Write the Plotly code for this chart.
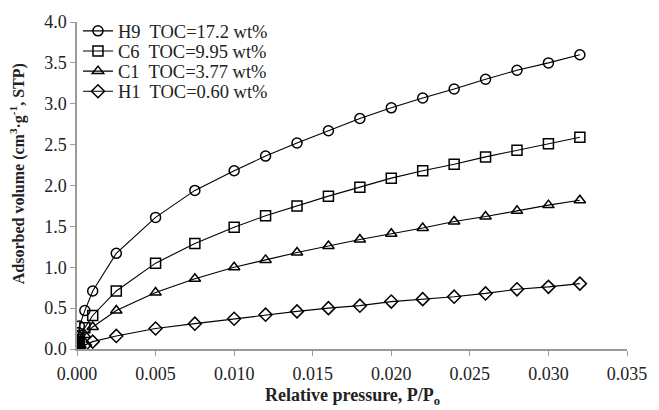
import plotly.graph_objects as go

# Relative pressure P/Po for each measured point
pressure = [0.00001, 0.00002, 0.00004, 0.00007, 0.0001, 0.00015, 0.0005, 0.001,
            0.0025, 0.005, 0.0075, 0.010, 0.012, 0.014, 0.016, 0.018, 0.020,
            0.022, 0.024, 0.026, 0.028, 0.030, 0.032]

# Adsorbed volume (cm3/g, STP) per sample
h9 = [0.02, 0.05, 0.10, 0.15, 0.20, 0.28, 0.47, 0.71,
      1.17, 1.61, 1.94, 2.18, 2.36, 2.52, 2.67, 2.82, 2.95,
      3.07, 3.18, 3.30, 3.41, 3.50, 3.60]
c6 = [0.01, 0.02, 0.04, 0.07, 0.09, 0.12, 0.26, 0.41,
      0.71, 1.05, 1.29, 1.49, 1.63, 1.75, 1.87, 1.98, 2.09,
      2.18, 2.26, 2.35, 2.43, 2.51, 2.59]
c1 = [0.01, 0.02, 0.03, 0.04, 0.05, 0.07, 0.17, 0.27,
      0.47, 0.69, 0.86, 1.00, 1.09, 1.18, 1.26, 1.34, 1.41,
      1.48, 1.56, 1.62, 1.69, 1.76, 1.82]
h1 = [0.003, 0.006, 0.01, 0.013, 0.015, 0.02, 0.05, 0.09,
      0.16, 0.25, 0.31, 0.37, 0.42, 0.46, 0.50, 0.53, 0.58,
      0.61, 0.64, 0.68, 0.73, 0.76, 0.80]

names = ["H9  TOC=17.2 wt%", "C6  TOC=9.95 wt%", "C1  TOC=3.77 wt%", "H1  TOC=0.60 wt%"]
symbols = ["circle-open", "square-open", "triangle-up-open", "diamond-open"]

x_ticks = [0.000, 0.005, 0.010, 0.015, 0.020, 0.025, 0.030, 0.035]
y_ticks = [0.0, 0.5, 1.0, 1.5, 2.0, 2.5, 3.0, 3.5, 4.0]

serif = "Liberation Serif, Times New Roman, serif"
ink = "#222"

# plot-area geometry in pixels (used for legend / title placement)
W, H = 659, 410
L, R, T, B = 77, 22, 16, 61
pw, ph = W - L - R, H - T - B

def px_x(x):
    return (x - L) / pw

def px_y(y):
    return (H - B - y) / ph

fig = go.Figure()
legend_ids = ["legend", "legend2", "legend3", "legend4"]
row_centres = [25.5, 46, 66.5, 87]
for name, ys, sym, lid in zip(names, [h9, c6, c1, h1], symbols, legend_ids):
    fig.add_trace(go.Scatter(
        x=pressure, y=ys, name=name, mode="lines+markers",
        line=dict(color="black", width=1.1),
        marker=dict(symbol=sym, size=10, color="black",
                    line=dict(color="black", width=1.5)),
        legend=lid,
    ))

axis_common = dict(
    showline=True, linecolor="#9a9a9a", linewidth=1.5,
    ticks="outside", tickcolor="#9a9a9a", ticklen=5, tickwidth=1.2,
    showgrid=False, zeroline=False,
    tickfont=dict(family=serif, size=18, color=ink),
)

layout_legends = {}
for lid, yc in zip(legend_ids, row_centres):
    layout_legends[lid] = dict(
        x=px_x(78), y=px_y(yc), xanchor="left", yanchor="middle",
        bgcolor="rgba(0,0,0,0)", borderwidth=0,
        font=dict(family=serif, size=18.5, color=ink),
        itemwidth=30,
    )

fig.update_layout(
    width=W, height=H,
    margin=dict(l=L, r=R, t=T, b=B),
    plot_bgcolor="white", paper_bgcolor="white",
    xaxis=dict(range=[0, 0.035], tickvals=x_ticks,
               ticktext=[f"{v:.3f}" for v in x_ticks],
               ticklabelstandoff=3,
               **axis_common),
    yaxis=dict(range=[0, 4.0], tickvals=y_ticks,
               ticktext=[f"{v:.1f}" for v in y_ticks],
               **axis_common),
    showlegend=True,
    annotations=[
        dict(text="<b>Relative pressure, P/P<sub>o</sub></b>",
             xref="paper", yref="paper", x=px_x(357), y=px_y(397),
             xanchor="center", yanchor="middle", showarrow=False,
             font=dict(family=serif, size=18, color=ink)),
        dict(text="<b>Adsorbed volume (cm<sup>3</sup>·g<sup>-1</sup>, STP)</b>",
             xref="paper", yref="paper", x=px_x(16.5), y=px_y(170.5),
             xanchor="center", yanchor="middle", textangle=-90, showarrow=False,
             font=dict(family=serif, size=16, color=ink)),
    ],
    **layout_legends,
)

fig.write_html("out.html")
